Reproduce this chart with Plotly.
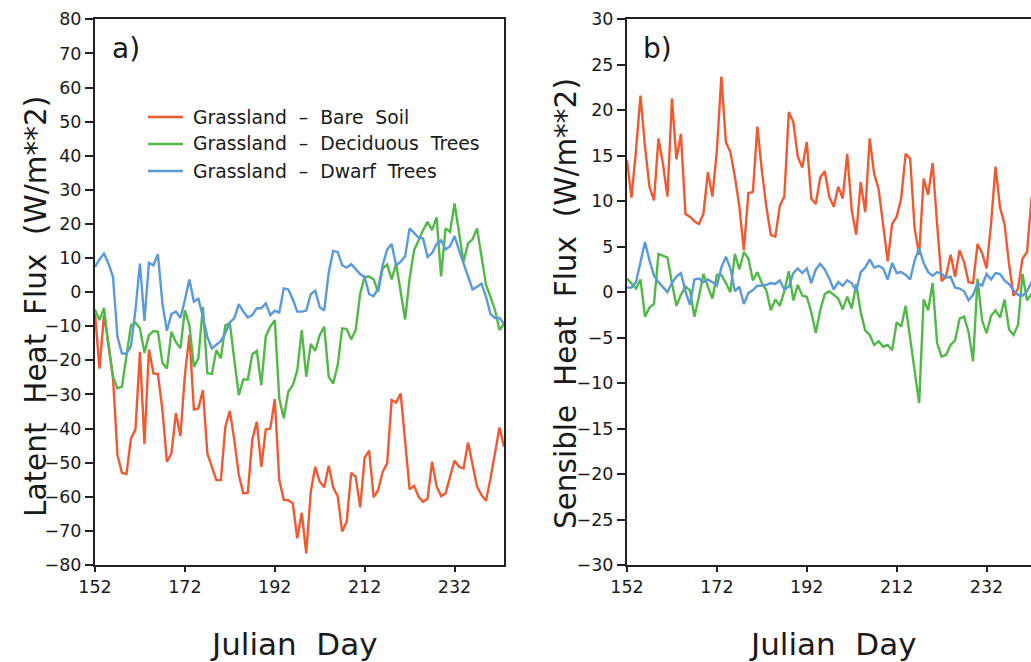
import plotly.graph_objects as go

days = list(range(152, 244))

lh_bare = [-6.3, -22.4, -6.7, -15, -25, -47.8, -53, -53.3, -42.9, -40.3,
           -17.5, -44.5, -16.8, -23.8, -24, -34.6, -49.7, -47.3, -35.5, -42.2,
           -24.3, -12.6, -34.4, -34.1, -28.7, -47.3, -51.2, -55.1, -55.1, -39.5,
           -34.8, -43.4, -53.6, -59, -58.8, -43.2, -38, -51.2, -40.3, -40,
           -31.4, -55.1, -60.9, -61, -61.9, -72.2, -64.7, -76.6, -58.6, -51.2,
           -55.6, -57.2, -50.9, -57.2, -59.8, -70.2, -67.3, -53, -54.1, -63.1,
           -48.5, -46.5, -60.2, -58, -52.7, -50.2, -31.6, -32.4, -29.7, -43.4,
           -57.8, -56.8, -60, -61.5, -60.5, -49.7, -56.9, -59.8, -59, -54.1,
           -49.4, -51.2, -51.7, -44.1, -50.2, -57, -59.5, -61.2, -54.6, -47.5,
           -39.7, -45.3]
lh_decid = [-5.1, -8.2, -4.6, -16, -24.8, -28.2, -27.7, -19, -9.7, -9,
            -10.6, -17.8, -12.6, -11.4, -11.6, -20.7, -22.4, -11.6, -14.6, -16.5,
            -5.3, -9.7, -21.9, -19.4, -4.3, -23.8, -24, -17, -19.4, -9.7,
            -9.1, -19.9, -30.2, -25.6, -25.6, -18.2, -17.2, -27.3, -12.9, -10.1,
            -8.2, -31.2, -37, -29.2, -27.3, -23, -11.1, -24.8, -15.2, -17.2,
            -12.6, -10.1, -24.8, -26.8, -21.4, -10.6, -10.8, -13.9, -11.1, -0.4,
            4.5, 4.6, 3.7, 0.1, 6.9, 8.1, 3.7, 8.4, 0.6, -8,
            4, 12.3, 15.2, 18.2, 20.6, 18.2, 21.9, 4.6, 18.7, 17.7,
            26, 17.2, 8.9, 14.3, 15.5, 18.7, 10.3, 2.1, -1.4, -5.3,
            -11.1, -9.2]
lh_dwarf = [7.4, 9.6, 11.3, 8.4, 4.5, -13.1, -18, -18, -15.8, -5.3,
            8.4, -8.4, 8.6, 7.9, 11.1, -3.3, -11.3, -6.4, -5.7, -7.6,
            -2.3, 3.7, -2.8, -1.9, -7.2, -13.1, -16.5, -15.5, -14.3, -12,
            -8.9, -7.6, -3.5, -5.7, -7.4, -6.7, -4.7, -4.7, -3.3, -6.7,
            -5.4, -6, 1.1, 0.8, -2.1, -5.7, -5.7, -5.4, -0.6, 0.4,
            -4.4, -5.4, 5.7, 12.1, 11.8, 7.9, 7.2, 8.2, 6.6, 5.3,
            4.4, -0.6, -1.2, 1.1, 7.9, 12.5, 14.1, 7.9, 8.9, 10.5,
            18.7, 17.2, 16, 15.7, 10.3, 11.5, 14.1, 15.2, 12.5, 13.5,
            16.4, 12.3, 8.4, 5, 0.8, 1.6, 2.5, -1.4, -6.4, -7.6,
            -7.6, -9.2]

sh_bare = [14.5, 10.4, 15.6, 21.6, 16, 11.6, 10.1, 16.9, 14.1, 10.5,
           21.3, 14.6, 17.4, 8.6, 8.3, 7.8, 7.5, 8.6, 13.2, 10.5,
           15.6, 23.7, 16.5, 15.4, 12.7, 9.4, 4.6, 10.9, 11, 18.2,
           13.4, 9.4, 6.3, 6.1, 9.5, 10.5, 19.8, 18.7, 14.9, 13.7,
           16.5, 10.3, 9.7, 12.6, 13.3, 10.5, 9.4, 11.6, 10.3, 15.2,
           9, 6.3, 12.1, 8.8, 16.9, 13, 11.3, 7.4, 3.4, 7.5,
           8.3, 10.3, 15.2, 14.7, 7, 4.1, 12.5, 10.7, 14.2, 7.5,
           1.2, 1.8, 4.1, 1.7, 4.6, 3.3, 1.1, 1, 5.3, 4.3,
           2.6, 7.5, 13.8, 9.3, 7.5, 3.1, -0.4, 0.4, 3.7, 4.4,
           10.3, 12]
sh_decid = [1.5, 1, 0.4, 1.4, -2.7, -1.7, -1.3, 4.2, 4, 3.8,
            1, -1.5, -0.3, 0.6, 0.2, -2.7, -0.5, 2, 0.6, -0.7,
            1.9, 1.9, 1, 0, 4.2, 2.5, 4.4, 3.7, 1.3, 2.2,
            1, 0.2, -2, -0.8, -1.5, 0.1, 2.3, -0.9, 0.8, -0.4,
            -0.5, -2.2, -4.5, -2, -0.2, 0.1, -0.3, -0.7, -1.9, -0.5,
            -1.8, 0.9, -2.2, -4.2, -4.7, -5.8, -5.4, -6, -5.8, -6.4,
            -3.3, -3.8, -1.5, -5.1, -8.6, -12.2, -0.8, -2, 1, -5.6,
            -7.1, -6.9, -5.8, -5.3, -2.9, -2.7, -4.4, -7.6, 1.5, -3.1,
            -4.5, -2.6, -2, -2.8, -0.8, -4.1, -4.7, -3.6, 2, -0.9,
            -0.2, 0.5]
sh_dwarf = [0.5, 0.5, 1.1, 3.5, 5.5, 3.5, 1.8, 1.1, 0.5, 0,
            1, 1.7, 2.1, 0.1, -1.4, 1.4, 1.5, 1.1, 1.4, 1.1,
            0.7, 2.7, 3.9, 2.6, 0.1, 0.6, -1.3, -0.1, 0.2, 0.7,
            0.7, 0.8, 1, 0.9, 1.3, 0.3, 0.6, 2.1, 2.6, 2.1,
            2.6, 1, 2.5, 3.1, 2.5, 1.5, 0.3, 1.1, 0.7, 1.3,
            1, 0.1, 2.2, 2.7, 3.6, 2.7, 2.9, 2.6, 1.4, 3.2,
            2.1, 2.2, 1.9, 1.4, 3.5, 4.8, 3.2, 2.2, 1.8, 2.2,
            2, 1.6, 1.7, 0.5, 0.4, 0.1, -0.9, -0.3, 1, 0.7,
            2, 1.4, 2.1, 2, 1.3, 0.9, 0.2, -0.3, -0.4, 0.1,
            1.1, 1.5]

series_names = ["Grassland  \u2013  Bare  Soil",
                "Grassland  \u2013  Deciduous  Trees",
                "Grassland  \u2013  Dwarf  Trees"]
colors = ["#EF5A30", "#52B848", "#5A9AD8"]
x_ticks = [152, 172, 192, 212, 232]

FONT = "DejaVu Sans"
TXT = "#1a1a1a"
W, H = 1031, 662

def px(x):
    return x / W

def py(y):
    return 1 - y / H

fig = go.Figure()
for ys, c, n in zip([lh_bare, lh_decid, lh_dwarf], colors, series_names):
    fig.add_trace(go.Scatter(x=days, y=ys, mode="lines", name=n,
                             line=dict(color=c, width=2.4), xaxis="x", yaxis="y",
                             showlegend=False))
for ys, c, n in zip([sh_bare, sh_decid, sh_dwarf], colors, series_names):
    fig.add_trace(go.Scatter(x=days, y=ys, mode="lines", name=n,
                             line=dict(color=c, width=2.4), xaxis="x2", yaxis="y2",
                             showlegend=False))

ydom = [py(565), py(19.3)]
ax_common = dict(showgrid=False, zeroline=False, showline=True, linecolor="#222",
                 linewidth=2, ticks="outside", tickcolor="#222", tickwidth=1.5,
                 automargin=False,
                 tickfont=dict(family=FONT, size=17.5, color=TXT))
fig.update_layout(
    template="none",
    width=W, height=H, margin=dict(l=0, r=0, t=0, b=0, pad=0),
    paper_bgcolor="white", plot_bgcolor="white", showlegend=False,
    xaxis=dict(domain=[px(95), px(504)], range=[152, 243], tickvals=x_ticks,
               ticklen=5, mirror=True, anchor="y", **ax_common),
    yaxis=dict(domain=ydom, range=[-80, 80], dtick=10, ticklen=8, mirror=True,
               anchor="x", **ax_common),
    xaxis2=dict(domain=[px(627), 1.0], range=[152, 152 + 404 * 91 / 409],
                tickvals=x_ticks, ticklen=5, mirror=True, anchor="y2", **ax_common),
    yaxis2=dict(domain=ydom, range=[-30, 30], dtick=5, ticklen=8, mirror=False,
                anchor="x2", **ax_common),
)

ann = []
ann.append(dict(text="Latent  Heat  Flux  (W/m**2)", x=px(36), y=py(307), textangle=-90,
                font=dict(family=FONT, size=29.5, color=TXT)))
ann.append(dict(text="Sensible  Heat  Flux  (W/m**2)", x=px(566), y=py(304), textangle=-90,
                font=dict(family=FONT, size=29.5, color=TXT)))
ann.append(dict(text="Julian  Day", x=px(294), y=py(644),
                font=dict(family=FONT, size=31, color=TXT)))
ann.append(dict(text="Julian  Day", x=px(833), y=py(644),
                font=dict(family=FONT, size=31, color=TXT)))
ann.append(dict(text="a)", x=px(110), y=py(48), xanchor="left",
                font=dict(family=FONT, size=28, color=TXT)))
ann.append(dict(text="b)", x=px(641), y=py(48), xanchor="left",
                font=dict(family=FONT, size=28, color=TXT)))
shapes = []
for k, (n, c) in enumerate(zip(series_names, colors)):
    yy = 117 + 27 * k
    ann.append(dict(text=n, x=px(191), y=py(yy), xanchor="left",
                    font=dict(family=FONT, size=18.8, color=TXT)))
    shapes.append(dict(type="line", xref="paper", yref="paper", x0=px(148), x1=px(183),
                       y0=py(yy), y1=py(yy), line=dict(color=c, width=2.4)))
for a in ann:
    a.setdefault("xanchor", "center")
    a.update(xref="paper", yref="paper", showarrow=False, yanchor="middle")
fig.update_layout(annotations=ann, shapes=shapes)

fig.write_html("out.html")
